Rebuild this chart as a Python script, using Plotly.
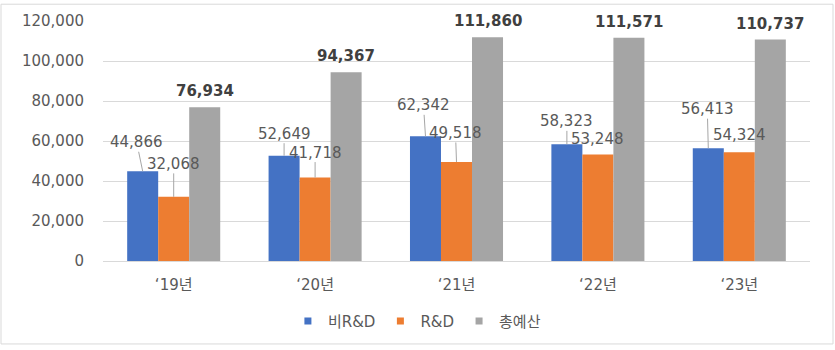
import plotly.graph_objects as go

categories = ["‘19년", "‘20년", "‘21년", "‘22년", "‘23년"]
non_rnd = [44866, 52649, 62342, 58323, 56413]
rnd = [32068, 41718, 49518, 53248, 54324]
total = [76934, 94367, 111860, 111571, 110737]
series_names = ["비R&D", "R&D", "총예산"]
colors = ["#4472C4", "#ED7D31", "#A5A5A5"]

# label placement (pixel offsets of the callout labels from the bar tops)
blue_offsets = [(-6, -29), (0, -22), (-2, -31), (0, -23), (-1, -39)]
orange_offsets = [(0, -33), (0, -25), (-1, -29), (0, -16), (0, -17)]
orange_leader = [True, True, True, False, False]

FONT = "DejaVu Sans, Noto Sans CJK KR, sans-serif"
TXT = "#595959"
BARGAP = 0.342
W = (1 - BARGAP) / 3

fig = go.Figure()
idx = list(range(len(categories)))
for name, vals, col in zip(series_names, [non_rnd, rnd, total], colors):
    fig.add_trace(go.Bar(x=idx, y=vals, name=name, marker_color=col,
                         marker_line_width=0, showlegend=False))
for name, col in zip(series_names, colors):
    fig.add_trace(go.Scatter(x=[None], y=[None], mode="markers", name=name,
                             marker=dict(symbol="square", size=7, color=col)))

ann = []
for i in idx:
    # blue labels with leader lines
    ax, ay = blue_offsets[i]
    ann.append(dict(x=i - W, y=non_rnd[i], xref="x", yref="y",
                    text=f"{non_rnd[i]:,}", showarrow=True, arrowhead=0,
                    arrowwidth=1, arrowcolor="#a6a6a6", ax=ax, ay=ay,
                    standoff=0, borderpad=0,
                    font=dict(family=FONT, size=15, color=TXT)))
    ax, ay = orange_offsets[i]
    if orange_leader[i]:
        ann.append(dict(x=i, y=rnd[i], xref="x", yref="y",
                        text=f"{rnd[i]:,}", showarrow=True, arrowhead=0,
                        arrowwidth=1, arrowcolor="#a6a6a6", ax=ax, ay=ay,
                        standoff=0, borderpad=0,
                        font=dict(family=FONT, size=15, color=TXT)))
    else:
        ann.append(dict(x=i, y=rnd[i], xref="x", yref="y",
                        text=f"{rnd[i]:,}", showarrow=False,
                        xshift=ax, yshift=-ay, yanchor="middle",
                        font=dict(family=FONT, size=15, color=TXT)))
    ann.append(dict(x=i + W, y=total[i], xref="x", yref="y",
                    text=f"<b>{total[i]:,}</b>", showarrow=False,
                    yshift=16, yanchor="middle",
                    font=dict(family=FONT, size=15, color="#404040")))

fig.update_layout(
    width=835, height=350,
    margin=dict(l=103, r=25, t=18, b=89),
    paper_bgcolor="white", plot_bgcolor="white",
    barmode="group", bargap=BARGAP, bargroupgap=0,
    font=dict(family=FONT, size=15, color=TXT),
    annotations=ann,
    legend=dict(orientation="h", x=0.444, xanchor="center", y=-0.251,
                yanchor="middle", font=dict(family=FONT, size=15, color=TXT),
                itemwidth=30),
    shapes=[dict(type="rect", xref="paper", yref="paper",
                 x0=(1 - 103) / 707, x1=(833 - 103) / 707,
                 y0=(261 - 345) / 243, y1=(261 - 1) / 243,
                 line=dict(color="#d9d9d9", width=1))],
)
fig.update_xaxes(tickmode="array", tickvals=idx, ticktext=categories,
                 range=[-0.5, len(categories) - 0.5], showgrid=False,
                 showline=True, linecolor="#d9d9d9", linewidth=1,
                 ticks="", ticklabelstandoff=10,
                 tickfont=dict(family=FONT, size=15, color=TXT))
fig.update_yaxes(range=[0, 120000], dtick=20000, tickformat=",d",
                 showgrid=True, gridcolor="#d9d9d9", gridwidth=1,
                 zeroline=False, showline=False, ticks="",
                 ticklabelstandoff=18,
                 tickfont=dict(family=FONT, size=15, color=TXT))

fig.write_html("out.html")
